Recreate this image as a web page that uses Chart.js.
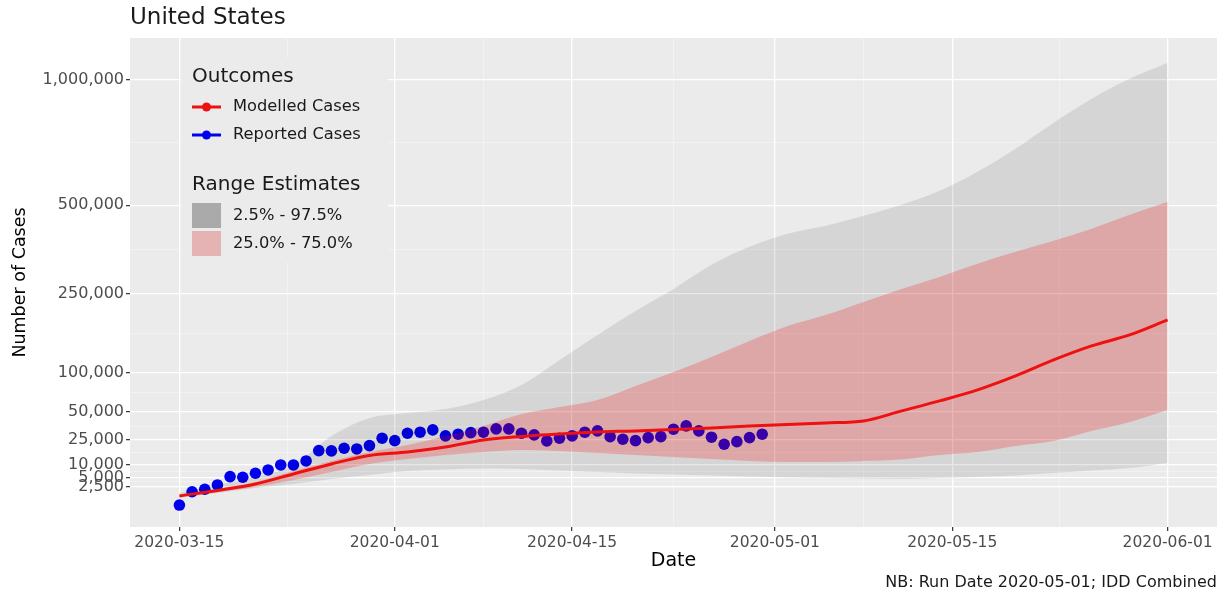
<!DOCTYPE html>
<html lang="en">
<head>
<meta charset="UTF-8">
<title>United States - Modelled vs Reported Cases</title>
<script src="https://cdn.jsdelivr.net/npm/chart.js"></script>
<style>
  body { margin: 0; background: #fff; }
  canvas { display: block; }
</style>
</head>
<body>
<canvas id="casesChart" width="1223" height="592"></canvas>
<script>
// ---- values ----
const startDate = '2020-03-15';

// modelled series + range estimates, every 3 days from 2020-03-15
const modelDays = [0, 3, 6, 9, 12, 15, 18, 21, 24, 27, 30, 33, 36, 39, 42, 45, 48, 51, 54, 57, 60, 63, 66, 69, 72, 75, 78];
const modelledCases = [760, 1640, 3100, 6240, 10480, 14950, 17010, 20200, 25120, 27780, 29760, 31400, 32230, 33500, 34790, 36560, 37910, 39290, 41170, 51200, 62320, 75830, 94920, 119350, 143040, 163150, 192720];
const range95High = [1200, 2840, 5180, 10010, 28170, 44060, 49110, 53340, 63500, 82400, 119350, 163150, 211620, 261590, 322150, 371650, 409620, 433910, 465260, 501000, 548400, 616190, 703450, 809070, 913150, 1004650, 1081040];
const range95Low = [525, 1200, 2140, 3100, 4530, 5880, 7400, 8020, 8440, 8230, 7600, 7000, 6430, 6060, 5700, 5350, 5020, 4850, 4690, 4530, 4850, 5180, 5700, 6620, 7600, 8660, 10970];
const range50High = [895, 1930, 3640, 7400, 11970, 17010, 21550, 28170, 36560, 48080, 55520, 63500, 81060, 100770, 124260, 152020, 180590, 203110, 231430, 261590, 291060, 324780, 357540, 388960, 424720, 468440, 510970];
const range50Low = [640, 1360, 2360, 4220, 7000, 10480, 13010, 15230, 17010, 18250, 17630, 16410, 15230, 14100, 13010, 11970, 11460, 11460, 11970, 12750, 15230, 17010, 20870, 24380, 32230, 40230, 52260];

// reported daily cases, one per day from 2020-03-15 to 2020-04-30
const reportedCases = [40, 1400, 1870, 2840, 5290, 5080, 6500, 7810, 10000, 10000, 11970, 17820, 17630, 19330, 18890, 21080, 26400, 24600, 30320, 31150, 33070, 28170, 29520, 30810, 31150, 33930, 33930, 30320, 28960, 24380, 26400, 28170, 31150, 32230, 27620, 25640, 24600, 26860, 27620, 33670, 36560, 32230, 27160, 22030, 23870, 26860, 29520];

const dateTicks = ['2020-03-15', '2020-04-01', '2020-04-15', '2020-05-01', '2020-05-15', '2020-06-01'];
const caseTicks = [2500, 5000, 10000, 25000, 50000, 100000, 250000, 500000, 1000000];

// ---- helpers ----
const dayOf = s => Math.round((Date.parse(s) - Date.parse(startDate)) / 86400000);
const sq = v => Math.sign(v) * Math.sqrt(Math.abs(v));
const pts = (days, vals) => days.map((d, i) => ({ x: d, y: vals[i] }));

const tickDays = dateTicks.map(dayOf);
const minorDays = tickDays.slice(1).map((d, i) => (d + tickDays[i]) / 2);
const minorCases = caseTicks.slice(1).map((v, i) => Math.pow((Math.sqrt(v) + Math.sqrt(caseTicks[i])) / 2, 2));
const majorX = new Set(tickDays);
const majorY = new Set(caseTicks);

// square-root y axis (like ggplot's scale_y_sqrt)
class SqrtScale extends Chart.LinearScale {
  static id = 'sqrt';
  static defaults = {};
  getPixelForValue(value) {
    const a = sq(this.min), b = sq(this.max);
    return this.getPixelForDecimal((sq(value) - a) / (b - a));
  }
  getValueForPixel(pixel) {
    const a = sq(this.min), b = sq(this.max);
    const t = a + this.getDecimalForPixel(pixel) * (b - a);
    return Math.sign(t) * t * t;
  }
}
Chart.register(SqrtScale);

const FONT = '"DejaVu Sans", Verdana, sans-serif';

// panel background, titles, caption and the two-part legend
const decorations = {
  id: 'decorations',
  beforeDraw(chart) {
    const { ctx, chartArea: a } = chart;
    ctx.save();
    ctx.fillStyle = '#EBEBEB';
    ctx.fillRect(a.left, a.top, a.right - a.left, a.bottom - a.top);
    ctx.restore();
  },
  afterDraw(chart) {
    const { ctx, chartArea: a } = chart;
    ctx.save();
    ctx.textBaseline = 'middle';

    // title
    ctx.fillStyle = '#1A1A1A';
    ctx.font = '23px ' + FONT;
    ctx.textAlign = 'left';
    ctx.fillText('United States', 130, 18);

    // axis titles
    ctx.fillStyle = '#000';
    ctx.font = '19px ' + FONT;
    ctx.textAlign = 'center';
    ctx.fillText('Date', (a.left + a.right) / 2, 561);
    ctx.save();
    ctx.translate(20, (a.top + a.bottom) / 2);
    ctx.rotate(-Math.PI / 2);
    ctx.font = '17.5px ' + FONT;
    ctx.fillText('Number of Cases', 0, 0);
    ctx.restore();

    // caption
    ctx.fillStyle = '#1A1A1A';
    ctx.font = '16px ' + FONT;
    ctx.textAlign = 'right';
    ctx.fillText('NB: Run Date 2020-05-01; IDD Combined', a.right, 583);

    // legend box
    ctx.fillStyle = '#EBEBEB';
    ctx.fillRect(181, 58, 207, 204);
    ctx.textAlign = 'left';
    ctx.fillStyle = '#1A1A1A';
    ctx.font = '20px ' + FONT;
    ctx.fillText('Outcomes', 192, 77);
    ctx.fillText('Range Estimates', 192, 185);

    const keys = [['Modelled Cases', '#EE1111', 107], ['Reported Cases', '#0000EE', 135]];
    ctx.font = '16.3px ' + FONT;
    keys.forEach(([label, col, y]) => {
      ctx.strokeStyle = col;
      ctx.lineWidth = 3;
      ctx.beginPath();
      ctx.moveTo(192, y);
      ctx.lineTo(221, y);
      ctx.stroke();
      ctx.fillStyle = col;
      ctx.beginPath();
      ctx.arc(206.5, y, 4.5, 0, Math.PI * 2);
      ctx.fill();
      ctx.fillStyle = '#1A1A1A';
      ctx.fillText(label, 233, y);
    });

    const boxes = [['2.5% - 97.5%', '#AAAAAA', 203], ['25.0% - 75.0%', '#E6B3B5', 231]];
    boxes.forEach(([label, col, y]) => {
      ctx.fillStyle = col;
      ctx.fillRect(192, y, 29, 25);
      ctx.fillStyle = '#1A1A1A';
      ctx.fillText(label, 233, y + 12.5);
    });
    ctx.restore();
  }
};

const ctx = document.getElementById('casesChart').getContext('2d');
const casesChart = new Chart(ctx, {
  type: 'line',
  data: {
    datasets: [
      {
        label: 'Modelled Cases',
        data: pts(modelDays, modelledCases),
        borderColor: '#EE1111',
        borderWidth: 3,
        pointRadius: 0,
        fill: false,
        cubicInterpolationMode: 'monotone',
        order: 0
      },
      {
        label: '25.0% - 75.0%',
        data: pts(modelDays, range50High),
        borderWidth: 0,
        borderColor: 'rgba(0,0,0,0)',
        backgroundColor: 'rgba(255,0,0,0.215)',
        pointRadius: 0,
        fill: '+1',
        cubicInterpolationMode: 'monotone',
        order: 1
      },
      {
        label: '25.0% low',
        data: pts(modelDays, range50Low),
        borderWidth: 0,
        borderColor: 'rgba(0,0,0,0)',
        pointRadius: 0,
        fill: false,
        cubicInterpolationMode: 'monotone',
        order: 1
      },
      {
        label: '2.5% - 97.5%',
        data: pts(modelDays, range95High),
        borderWidth: 0,
        borderColor: 'rgba(0,0,0,0)',
        backgroundColor: 'rgba(0,0,0,0.09)',
        pointRadius: 0,
        fill: '+1',
        cubicInterpolationMode: 'monotone',
        order: 2
      },
      {
        label: '2.5% low',
        data: pts(modelDays, range95Low),
        borderWidth: 0,
        borderColor: 'rgba(0,0,0,0)',
        pointRadius: 0,
        fill: false,
        cubicInterpolationMode: 'monotone',
        order: 2
      },
      {
        label: 'Reported Cases',
        data: reportedCases.map((v, i) => ({ x: i, y: v })),
        showLine: false,
        pointRadius: 5.8,
        pointBackgroundColor: '#0000EE',
        pointBorderWidth: 0,
        order: 3
      }
    ]
  },
  options: {
    responsive: false,
    animation: false,
    events: [],
    layout: { padding: { left: 0, right: 6, top: 38, bottom: 0 } },
    plugins: {
      legend: { display: false },
      title: { display: false },
      tooltip: { enabled: false }
    },
    scales: {
      x: {
        type: 'linear',
        min: -3.9,
        max: 81.9,
        bounds: 'data',
        afterBuildTicks: s => {
          s.ticks = [...tickDays, ...minorDays].sort((p, q) => p - q).map(v => ({ value: v }));
        },
        afterFit: s => { s.height = 65; },
        ticks: {
          autoSkip: false,
          maxRotation: 0,
          padding: 3,
          color: '#4D4D4D',
          font: { family: FONT, size: 15.5 },
          callback: v => majorX.has(v) ? dateTicks[tickDays.indexOf(v)] : ''
        },
        grid: {
          color: c => (c.tick && majorX.has(c.tick.value)) ? '#FFFFFF' : 'rgba(255,255,255,0.5)',
          lineWidth: c => (c.tick && majorX.has(c.tick.value)) ? 1.3 : 0.7,
          tickColor: c => (c.tick && majorX.has(c.tick.value)) ? '#333333' : 'rgba(0,0,0,0)',
          tickLength: 4,
          tickWidth: 1.2
        },
        border: { display: false }
      },
      y: {
        type: 'sqrt',
        min: -2025,
        max: 1205000,
        bounds: 'data',
        afterBuildTicks: s => {
          s.ticks = [...caseTicks, ...minorCases].sort((p, q) => p - q).map(v => ({ value: v }));
        },
        afterFit: s => { s.width = 130; },
        ticks: {
          autoSkip: false,
          padding: 2,
          color: '#4D4D4D',
          font: { family: FONT, size: 16 },
          callback: v => majorY.has(v) ? v.toLocaleString('en-US') : ''
        },
        grid: {
          color: c => (c.tick && majorY.has(c.tick.value)) ? '#FFFFFF' : 'rgba(255,255,255,0.5)',
          lineWidth: c => (c.tick && majorY.has(c.tick.value)) ? 1.3 : 0.7,
          tickColor: c => (c.tick && majorY.has(c.tick.value)) ? '#333333' : 'rgba(0,0,0,0)',
          tickLength: 4,
          tickWidth: 1.2
        },
        border: { display: false }
      }
    }
  },
  plugins: [decorations]
});
</script>
</body>
</html>
